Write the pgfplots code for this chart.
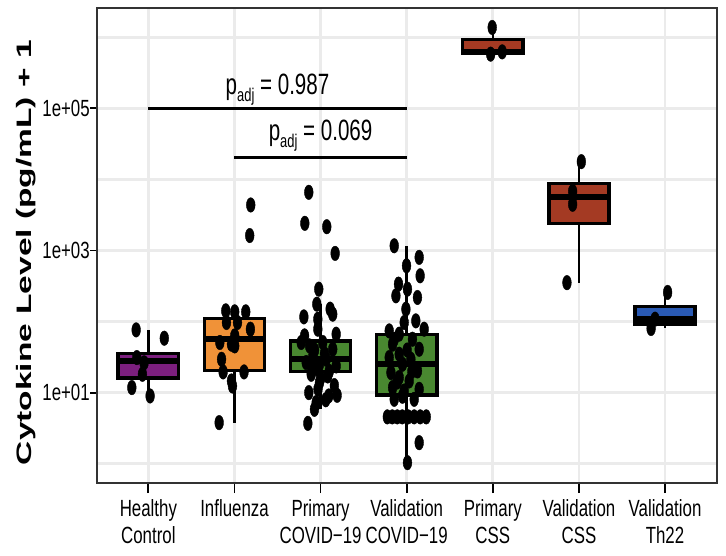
\documentclass[border=0pt]{standalone}
\usepackage{fontspec}
\setmainfont{Liberation Sans}
\newfontfamily\tickfamily{Liberation Sans}[FakeStretch=0.72]
\newfontfamily\annfamily{Liberation Sans}[FakeStretch=0.7]
\newfontfamily\ylabfamily{Liberation Sans}[FakeStretch=1.6]
\usepackage{pgfplots}
\pgfplotsset{compat=1.18}
\usepgfplotslibrary{statistics}

\definecolor{gridgray}{RGB}{235,235,235}
\definecolor{hcpurple}{RGB}{124,31,126}
\definecolor{fluorange}{RGB}{240,146,56}
\definecolor{covgreen}{RGB}{73,136,48}
\definecolor{cssred}{RGB}{164,58,35}
\definecolor{thblue}{RGB}{42,90,180}

\newcommand\tickfont{\tickfamily\fontsize{23.5}{27}\selectfont}
\newcommand\annfont{\annfamily\fontsize{29.5}{30}\selectfont}
\newcommand\padj[1]{p\raisebox{-7bp}{\fontsize{18.5}{18.5}\selectfont adj} = #1}

% The vertical axis holds log10(level + 1); the tick labels show the powers of ten.
\pgfplotsset{
  cbox/.style={
    draw=black, fill=#1, solid,
    boxplot/draw direction=y,
    boxplot/box extend=0.7,
    boxplot/whisker extend=0,
    boxplot/every box/.style={line width=3.5bp},
    boxplot/every whisker/.style={line width=2.5bp},
    boxplot/every median/.style={line width=6bp},
  },
  pts/.style={only marks, mark=*, mark size=7.3bp,
    mark options={draw=black, fill=black, xscale=0.6}},
}

\begin{document}
\begin{tikzpicture}
\begin{axis}[
  scale only axis, width=620bp, height=475bp,
  xmin=0.4, xmax=7.6,
  ymin=-0.27, ymax=6.41,
  xtick={1,2,3,4,5,6,7},
  xticklabels={Healthy\\Control, Influenza, Primary\\COVID−19, Validation\\COVID−19,
               Primary\\CSS, Validation\\CSS, Validation\\Th22},
  xticklabel style={font=\tickfont, align=center, inner ysep=2bp, yshift=-10.5bp},
  ytick={1,3,5},
  yticklabels={1e+01,1e+03,1e+05},
  yticklabel style={font=\tickfont, inner xsep=2.5bp},
  minor ytick={0,2,4,6},
  minor tick length=0pt,
  xmajorgrids, ymajorgrids, yminorgrids,
  major grid style={draw=gridgray, line width=2.8bp},
  minor grid style={draw=gridgray, line width=2.8bp},
  tick align=outside, tick pos=left,
  xtick style={/pgfplots/major tick length=10bp},
  ytick style={/pgfplots/major tick length=6.5bp},
  tick style={black, line width=1.8bp},
  axis line style={draw=black!80, line width=2bp},
  ylabel={Cytokine Level (pg/mL) + 1},
  every axis y label/.style={at={(axis description cs:-0.1048,0.485)},
    rotate=90, anchor=base, font=\ylabfamily\bfseries\fontsize{21}{22}\selectfont},
]
% boxes: whisker low, Q1, median, Q3, whisker high (log10 units)
\addplot[cbox=hcpurple, boxplot prepared={draw position=1,
  lower whisker=0.954, lower quartile=1.207, median=1.452,
  upper quartile=1.551, upper whisker=1.883}] coordinates {};
\addplot[cbox=fluorange, boxplot prepared={draw position=2,
  lower whisker=0.579, lower quartile=1.311, median=1.755,
  upper quartile=2.044, upper whisker=2.151}] coordinates {};
\addplot[cbox=covgreen, boxplot prepared={draw position=3,
  lower whisker=0.766, lower quartile=1.297, median=1.475,
  upper quartile=1.728, upper whisker=2.245}] coordinates {};
\addplot[cbox=covgreen, boxplot prepared={draw position=4,
  lower whisker=0.016, lower quartile=0.968, median=1.40,
  upper quartile=1.818, upper whisker=3.066}] coordinates {};
\addplot[cbox=cssred, boxplot prepared={draw position=5,
  lower whisker=5.761, lower quartile=5.777, median=5.793,
  upper quartile=5.965, upper whisker=6.136}] coordinates {};
\addplot[cbox=cssred, boxplot prepared={draw position=6,
  lower whisker=2.547, lower quartile=3.38, median=3.745,
  upper quartile=3.94, upper whisker=4.249}] coordinates {};
\addplot[cbox=thblue, boxplot prepared={draw position=7,
  lower whisker=1.903, lower quartile=1.968, median=2.034,
  upper quartile=2.21, upper whisker=2.41}] coordinates {};

% jittered samples
\addplot[pts] table {
x y
0.858 1.883
1.185 1.766
0.866 1.494
0.950 1.420
0.931 1.259
0.808 1.072
1.020 0.954
};
\addplot[pts] table {
x y
1.899 2.151
2.003 2.137
2.131 2.137
1.907 1.987
2.035 1.987
2.185 1.893
2.003 1.799
1.830 1.706
1.965 1.682
2.003 1.658
1.850 1.470
1.868 1.292
2.111 1.292
1.965 1.165
1.977 1.094
1.822 0.579
2.189 3.640
2.177 3.210
};
\addplot[pts] table {
x y
2.863 3.818
2.817 3.382
3.072 3.334
3.169 2.959
2.979 2.456
2.956 2.245
3.111 2.175
3.141 2.104
2.806 2.066
2.968 2.034
3.181 1.823
2.814 1.799
2.968 1.893
2.872 1.658
3.025 1.706
3.141 1.611
2.910 1.517
3.065 1.470
2.833 1.424
3.181 1.376
2.968 1.330
2.891 1.259
3.083 1.235
2.987 1.142
2.863 1.001
3.095 0.954
3.192 0.963
2.949 0.861
2.929 0.766
2.852 0.569
2.775 1.706
2.930 1.600
3.045 1.550
2.987 1.400
3.100 1.300
2.895 1.380
3.000 1.200
3.160 1.100
2.970 1.050
3.060 0.900
};
\addplot[pts] table {
x y
3.855 3.066
4.145 2.903
3.998 2.785
4.156 2.644
3.905 2.527
4.009 2.456
3.875 2.362
4.125 2.339
3.991 2.175
4.106 2.010
3.971 1.987
4.203 1.893
3.797 1.869
3.913 1.823
4.067 1.752
3.836 1.682
4.145 1.611
3.913 1.541
3.797 1.494
4.049 1.470
3.951 1.400
4.125 1.306
3.817 1.283
3.913 1.213
4.029 1.165
3.836 1.072
4.145 1.048
3.971 1.024
3.855 0.907
4.087 0.907
3.855 1.750
4.005 1.600
3.890 1.150
4.060 1.300
3.950 0.950
3.775 0.660
3.833 0.660
3.891 0.660
3.949 0.660
4.018 0.660
4.087 0.660
4.157 0.660
4.227 0.660
4.145 0.297
4.009 0.016
};
\addplot[pts] table {
x y
4.993 6.136
4.975 5.761
5.109 5.793
};
\addplot[pts] table {
x y
6.028 4.249
5.861 2.547
5.927 3.830
5.927 3.650
};
\addplot[pts] table {
x y
7.030 2.410
6.884 2.034
6.838 1.903
};

% significance brackets
\addplot[black, line width=3bp, no marks] coordinates {(1,5) (4,5)};
\addplot[black, line width=3bp, no marks] coordinates {(2,4.311) (4,4.311)};
\node[font=\annfont, anchor=base, yshift=14bp] at (axis cs:2.5,5) {\padj{0.987}};
\node[font=\annfont, anchor=base, yshift=16.5bp] at (axis cs:3,4.311) {\padj{0.069}};

\coordinate (pbl) at (rel axis cs:0,0);
\coordinate (ptr) at (rel axis cs:1,1);
\end{axis}
\pgfresetboundingbox
\path ([shift={(-96.7bp,-73bp)}]pbl) rectangle ([shift={(9.3bp,8bp)}]ptr);
\end{tikzpicture}
\end{document}
